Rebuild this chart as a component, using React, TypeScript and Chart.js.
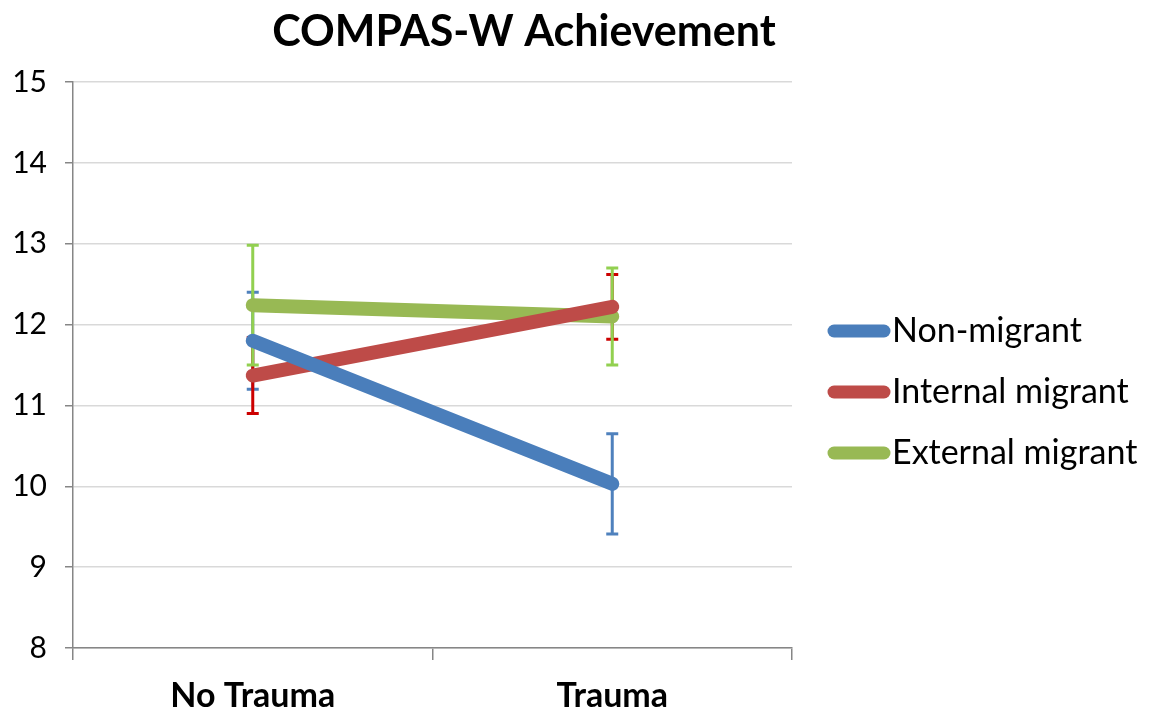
import React, { useEffect, useRef } from "react";
import { Chart, registerables } from "chart.js";

Chart.register(...registerables);

const titleText = "COMPAS-W Achievement";
const categories = ["No Trauma", "Trauma"];
const seriesNames = ["Non-migrant", "Internal migrant", "External migrant"];
const nonMigrant = [11.8, 10.03];
const internalMigrant = [11.37, 12.22];
const externalMigrant = [12.24, 12.1];
const nonMigrantErr = [0.6, 0.62];
const internalMigrantErr = [0.47, 0.4];
const externalMigrantErr = [0.74, 0.6];
const yMin = 8;
const yMax = 15;
const yStep = 1;

const lineColors = ["#4A7EBB", "#BE4B48", "#98B954"];
const errColors = ["#4F81BD", "#CC0000", "#92D050"];
const FONT = "Lato, 'Open Sans', sans-serif";

const errorBarPlugin = {
  id: "errorBars",
  beforeDatasetsDraw(chart: any) {
    const ctx = chart.ctx;
    const yScale = chart.scales.y;
    chart.data.datasets.forEach((ds: any, i: number) => {
      const meta = chart.getDatasetMeta(i);
      const errs: number[] = ds.errors || [];
      meta.data.forEach((pt: any, j: number) => {
        const v = ds.data[j];
        const e = errs[j];
        if (e == null) return;
        const x = pt.x;
        const yTop = yScale.getPixelForValue(v + e);
        const yBot = yScale.getPixelForValue(v - e);
        ctx.save();
        ctx.strokeStyle = ds.errorColor;
        ctx.lineWidth = 3;
        ctx.beginPath();
        ctx.moveTo(x, yTop);
        ctx.lineTo(x, yBot);
        ctx.moveTo(x - 6, yTop);
        ctx.lineTo(x + 6, yTop);
        ctx.moveTo(x - 6, yBot);
        ctx.lineTo(x + 6, yBot);
        ctx.stroke();
        ctx.restore();
      });
    });
  },
};

const titleLegendPlugin = {
  id: "titleLegend",
  afterDraw(chart: any) {
    const ctx = chart.ctx;
    ctx.save();
    ctx.fillStyle = "#000";
    ctx.font = `bold 43px ${FONT}`;
    ctx.textAlign = "center";
    ctx.textBaseline = "alphabetic";
    ctx.fillText(titleText, 524, 46);

    ctx.font = `34px ${FONT}`;
    ctx.textAlign = "left";
    ctx.textBaseline = "middle";
    chart.data.datasets.forEach((ds: any, i: number) => {
      const y = 331 + i * 61;
      ctx.strokeStyle = ds.borderColor;
      ctx.lineWidth = 13;
      ctx.lineCap = "round";
      ctx.beginPath();
      ctx.moveTo(834, y);
      ctx.lineTo(884, y);
      ctx.stroke();
      ctx.fillStyle = "#000";
      ctx.fillText(ds.label, 892, y);
    });
    ctx.restore();
  },
};

export default function App() {
  const ref = useRef<HTMLCanvasElement | null>(null);
  useEffect(() => {
    document.body.style.margin = "0";
    const values = [nonMigrant, internalMigrant, externalMigrant];
    const errs = [nonMigrantErr, internalMigrantErr, externalMigrantErr];
    const chart = new Chart(ref.current as HTMLCanvasElement, {
      type: "line",
      data: {
        labels: categories,
        datasets: seriesNames.map((name, i) => ({
          label: name,
          data: values[i],
          errors: errs[i],
          errorColor: errColors[i],
          borderColor: lineColors[i],
          backgroundColor: lineColors[i],
          borderWidth: 14,
          borderCapStyle: "round",
          borderJoinStyle: "round",
          pointRadius: 0,
          fill: false,
        })) as any,
      },
      options: {
        responsive: false,
        animation: false,
        layout: { padding: { top: 82, right: 370, left: 0, bottom: 0 } },
        plugins: {
          legend: { display: false },
          title: { display: false },
          tooltip: { enabled: false },
        },
        scales: {
          x: {
            offset: true,
            grid: {
              offset: true,
              drawOnChartArea: false,
              color: "#868686",
              lineWidth: 1.5,
              tickLength: 12,
            },
            border: { color: "#868686", width: 1.5 },
            ticks: {
              color: "#000",
              font: { family: FONT, size: 34, weight: "bold" },
              padding: 16,
            },
            afterFit(scale: any) {
              scale.height = 68;
            },
          },
          y: {
            min: yMin,
            max: yMax,
            ticks: {
              stepSize: yStep,
              color: "#000",
              font: { family: FONT, size: 30 },
              padding: 18,
            },
            grid: {
              color: "#D9D9D9",
              lineWidth: 1.5,
              tickLength: 8,
              tickColor: "#868686",
            },
            border: { color: "#868686", width: 1.5 },
            afterFit(scale: any) {
              scale.width = 73;
            },
          },
        },
      },
      plugins: [errorBarPlugin, titleLegendPlugin],
    });
    return () => chart.destroy();
  }, []);
  return (
    <div style={{ width: 1162, height: 716 }}>
      <canvas ref={ref} width={1162} height={716} />
    </div>
  );
}
